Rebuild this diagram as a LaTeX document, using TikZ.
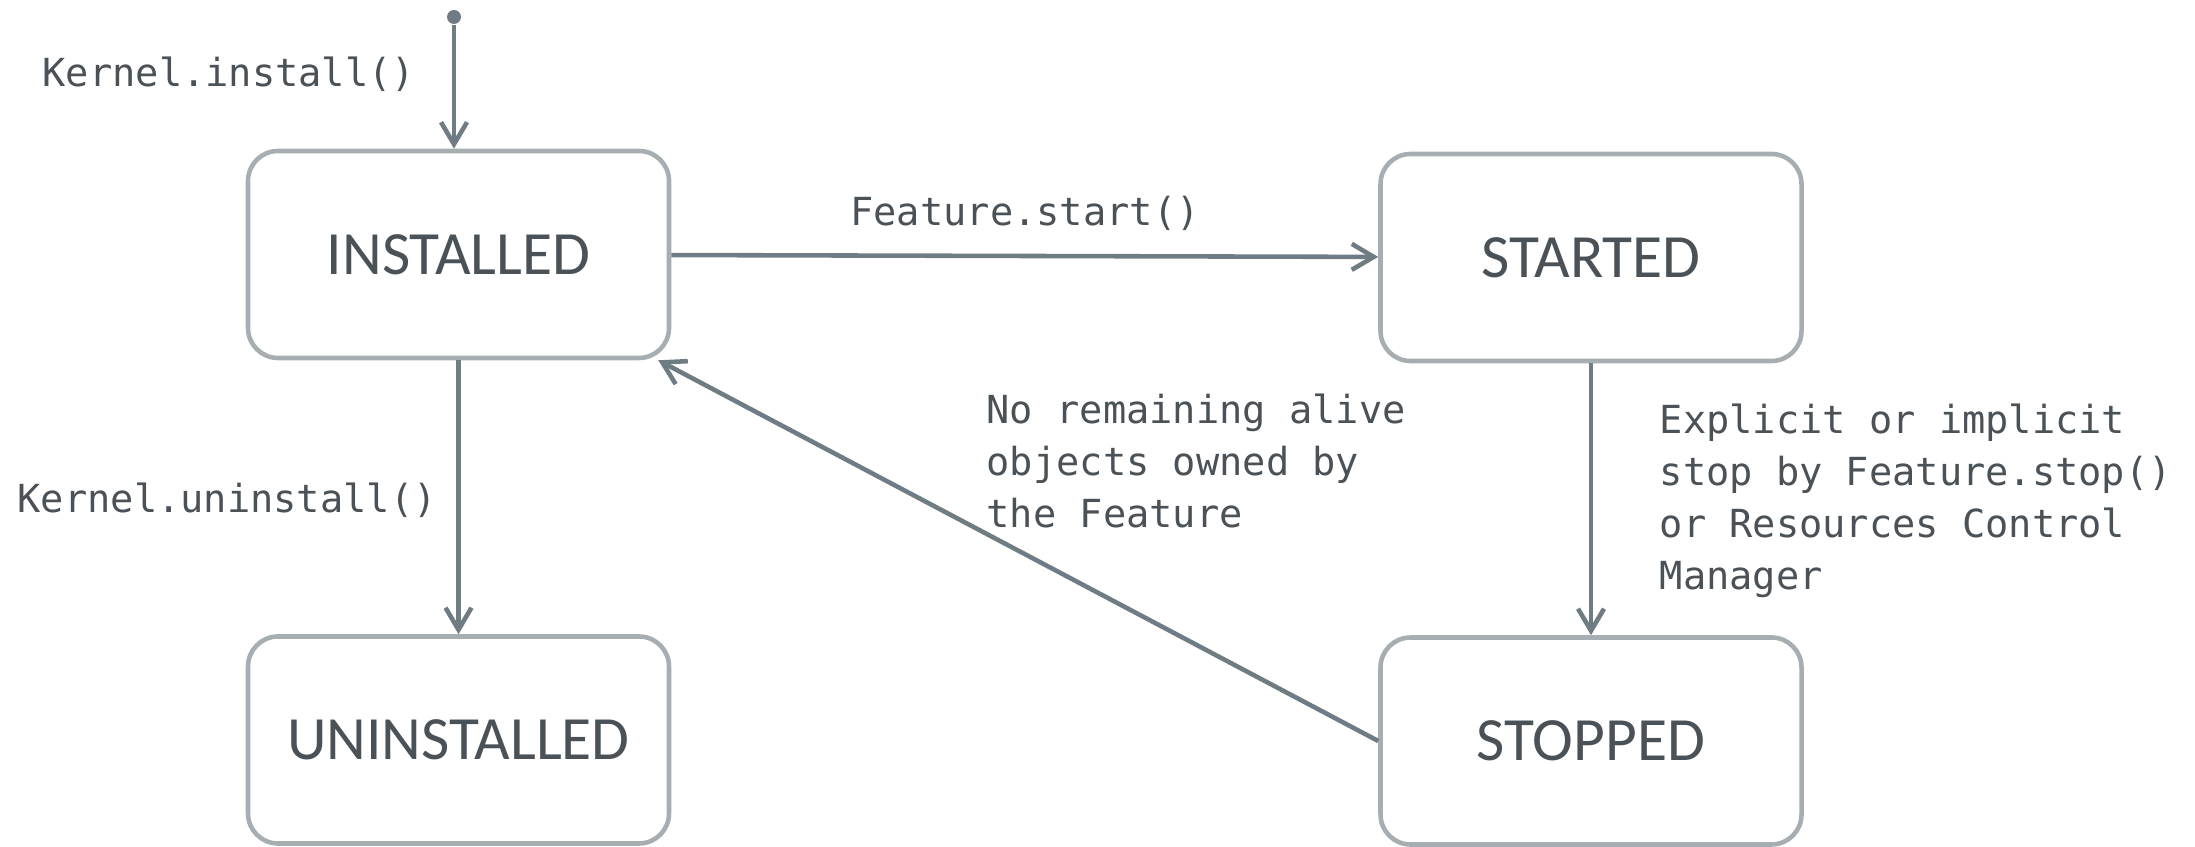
\documentclass[tikz,border=0pt]{standalone}
\usepackage{fontspec}
\setmainfont{Carlito}
\newfontfamily\monofont{DejaVu Sans Mono}
\usepackage{tikz}
\usetikzlibrary{arrows.meta}

\definecolor{boxline}{HTML}{A6AEB2}
\definecolor{arrowcol}{HTML}{6F7C83}
\definecolor{textcol}{HTML}{4B5257}

\tikzset{
  state/.style={shape=rectangle,rounded corners=0.3cm,draw=boxline,line width=1.3pt,
    minimum width=4.21cm,minimum height=2.07cm,text=textcol,
    font=\fontsize{17.5}{21}\selectfont},
  arr/.style={draw=arrowcol,line width=1.3pt,-{Straight Barb[length=2.2mm,width=2.6mm]}},
  lbl/.style={inner sep=0pt,text=textcol,align=left,
    font=\monofont\fontsize{11}{14.8}\selectfont},
  initdot/.style={shape=circle,fill=arrowcol,inner sep=0pt,minimum size=0.14cm}
}

\begin{document}
\begin{tikzpicture}
\useasboundingbox (0,0) rectangle (21.95,8.47);
\node[state] (installed) at (4.585,5.925) {INSTALLED};
\node[state] (started) at (15.91,5.895) {STARTED};
\node[state] (uninstalled) at (4.585,1.07) {UNINSTALLED};
\node[state] (stopped) at (15.91,1.06) {STOPPED};
\node[initdot] (init) at (4.54,8.30) {};
\path [arr] (init) edge (init |- installed.north);
\path [arr] (installed) edge (started);
\path [arr] (installed) edge (uninstalled);
\path [arr] (started) edge (stopped);
\draw [arr] (stopped.west) -- (installed);
\node[lbl,anchor=west] (linstall) at (0.42,7.73) {Kernel.install()};
\node[lbl] (lstart) at (10.25,6.34) {Feature.start()};
\node[lbl,anchor=west] (luninstall) at (0.17,3.47) {Kernel.uninstall()};
\node[lbl,anchor=west] (lstop) at (16.59,3.46) {Explicit or implicit\\stop by Feature.stop()\\or Resources Control\\Manager};
\node[lbl,anchor=west] (lalive) at (9.86,3.86) {No remaining alive\\objects owned by\\the Feature};
\end{tikzpicture}
\end{document}
